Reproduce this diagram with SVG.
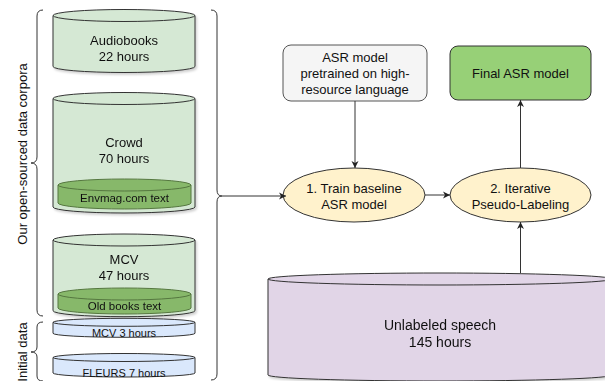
<svg xmlns="http://www.w3.org/2000/svg" width="605" height="381" viewBox="0 0 605 381">
  <style>
    text { font-family: "Liberation Sans", Arial, Helvetica, sans-serif; fill: #111; text-anchor: middle; dominant-baseline: central; }
    .t13 { font-size: 13px; }
    .t14 { font-size: 14px; }
    .t115 { font-size: 11.5px; }
    .t11 { font-size: 11px; }
    .green { fill: #d5e8d4; stroke: #333; stroke-width: 1; }
    .inner { fill: #87b86b; stroke: #55773f; stroke-width: 1; }
    .blue { fill: #dae8fc; stroke: #333; stroke-width: 1; }
    .purple { fill: #e1d5e7; stroke: #333; stroke-width: 1; }
    .oval { fill: #fff2cc; stroke: #333; stroke-width: 1; }
    .grey { fill: #f5f5f5; stroke: #555; stroke-width: 1; }
    .final { fill: #97d077; stroke: #333; stroke-width: 1; }
    .rim { fill: none; stroke: #333; stroke-width: 1; }
    .rim-in { fill: none; stroke: #55773f; stroke-width: 1; }
    .brace { fill: none; stroke: #333; stroke-width: 1; }
    .edge { fill: none; stroke: #333; stroke-width: 1; }
  </style>
  <defs>
    <marker id="arrow" markerWidth="8" markerHeight="8" refX="7" refY="4" orient="auto" markerUnits="userSpaceOnUse">
      <path d="M0,0.5 L7,4 L0,7.5 L2,4 Z" fill="#222"/>
    </marker>
    <filter id="shadow" x="-10%" y="-10%" width="130%" height="130%">
      <feDropShadow dx="1.5" dy="2" stdDeviation="1" flood-color="#000" flood-opacity="0.18"/>
    </filter>
  </defs>

  <!-- Side labels -->
  <text class="t13" transform="translate(22,154) rotate(-90)">Our open-sourced data corpora</text>
  <text class="t13" transform="translate(22,352) rotate(-90)">Initial data</text>

  <!-- Braces -->
  <g id="brace-open">
    <path class="brace" d="M43,10 Q37,10 37,16 L37,157 Q37,163 31,163 Q37,163 37,169 L37,310 Q37,316 43,316"/>
  </g>
  <g id="brace-initial">
    <path class="brace" d="M43,322 Q37,322 37,327 L37,347 Q37,352 31,352 Q37,352 37,357 L37,376 Q37,381 43,381"/>
  </g>
  <g id="brace-all">
    <path class="brace" d="M211,10 Q217,10 217,16 L217,190 Q217,196 222,196 Q217,196 217,202 L217,374 Q217,380 211,380"/>
  </g>

  <!-- Corpora cylinders -->
  <g id="audiobooks" filter="url(#shadow)">
    <path class="green" d="M53,15.5 A71,6 0 0 1 195,15.5 L195,66.5 A71,6 0 0 1 53,66.5 Z"/>
    <path class="rim" d="M53,15.5 A71,6 0 0 0 195,15.5"/>
    <text class="t13" x="124" y="40.5">Audiobooks</text>
    <text class="t13" x="124" y="56.5">22 hours</text>
  </g>

  <g id="crowd" filter="url(#shadow)">
    <path class="green" d="M53,98.5 A71,6 0 0 1 195,98.5 L195,207 A71,6 0 0 1 53,207 Z"/>
    <path class="rim" d="M53,98.5 A71,6 0 0 0 195,98.5"/>
    <text class="t13" x="124" y="142">Crowd</text>
    <text class="t13" x="124" y="158.5">70 hours</text>
    <g id="envmag">
      <path class="inner" d="M58,185 A66.5,6 0 0 1 191,185 L191,203 A66.5,6 0 0 1 58,203 Z"/>
      <path class="rim-in" d="M58,185 A66.5,6 0 0 0 191,185"/>
      <text class="t115" x="124.5" y="198">Envmag.com text</text>
    </g>
  </g>

  <g id="mcv" filter="url(#shadow)">
    <path class="green" d="M53,240 A71,6 0 0 1 195,240 L195,310.7 A71,6 0 0 1 53,310.7 Z"/>
    <path class="rim" d="M53,240 A71,6 0 0 0 195,240"/>
    <text class="t13" x="124" y="259">MCV</text>
    <text class="t13" x="124" y="275">47 hours</text>
    <g id="old-books">
      <path class="inner" d="M58,294 A66.5,6 0 0 1 191,294 L191,308 A66.5,6 0 0 1 58,308 Z"/>
      <path class="rim-in" d="M58,294 A66.5,6 0 0 0 191,294"/>
      <text class="t115" x="124.5" y="306">Old books text</text>
    </g>
  </g>

  <g id="mcv-3h">
    <path class="blue" d="M53,322.3 A71,4 0 0 1 195,322.3 L195,333.3 A71,4 0 0 1 53,333.3 Z"/>
    <path class="rim" d="M53,322.3 A71,4 0 0 0 195,322.3"/>
    <text class="t11" x="124" y="332.5">MCV 3 hours</text>
  </g>

  <g id="fleurs">
    <path class="blue" d="M53,357.5 A71,4 0 0 1 195,357.5 L195,373 A71,4 0 0 1 53,373 Z"/>
    <path class="rim" d="M53,357.5 A71,4 0 0 0 195,357.5"/>
    <text class="t11" x="124" y="372.5">FLEURS 7 hours</text>
  </g>

  <!-- Pipeline -->
  <g id="pretrained">
    <rect class="grey" x="283" y="45" width="144" height="56" rx="8"/>
    <text class="t13" x="355" y="57">ASR model</text>
    <text class="t13" x="355" y="73">pretrained on high-</text>
    <text class="t13" x="355" y="89">resource language</text>
  </g>

  <g id="final-model">
    <rect class="final" x="450" y="46" width="141" height="54" rx="8"/>
    <text class="t13" x="520.5" y="73">Final ASR model</text>
  </g>

  <g id="train-baseline">
    <ellipse class="oval" cx="354" cy="195" rx="71" ry="27"/>
    <text class="t13" x="354" y="188">1. Train baseline</text>
    <text class="t13" x="354" y="204">ASR model</text>
  </g>

  <g id="pseudo-labeling">
    <ellipse class="oval" cx="520.5" cy="195" rx="70.5" ry="27"/>
    <text class="t13" x="520.5" y="188">2. Iterative</text>
    <text class="t13" x="520.5" y="204">Pseudo-Labeling</text>
  </g>

  <g id="unlabeled" filter="url(#shadow)">
    <path class="purple" d="M268,279 A172,6 0 0 1 612,279 L612,375 A172,6 0 0 1 268,375 Z"/>
    <path class="rim" d="M268,279 A172,6 0 0 0 612,279"/>
    <text class="t14" x="440" y="325">Unlabeled speech</text>
    <text class="t14" x="440" y="342">145 hours</text>
  </g>

  <!-- Connectors -->
  <g id="connectors">
    <path class="edge" d="M222,196 L286,196" marker-end="url(#arrow)"/>
    <path class="edge" d="M355,101 L355,168" marker-end="url(#arrow)"/>
    <path class="edge" d="M425,195 L450,195" marker-end="url(#arrow)"/>
    <path class="edge" d="M520.5,168 L520.5,100" marker-end="url(#arrow)"/>
    <path class="edge" d="M520.5,273 L520.5,222" marker-end="url(#arrow)"/>
  </g>
</svg>
